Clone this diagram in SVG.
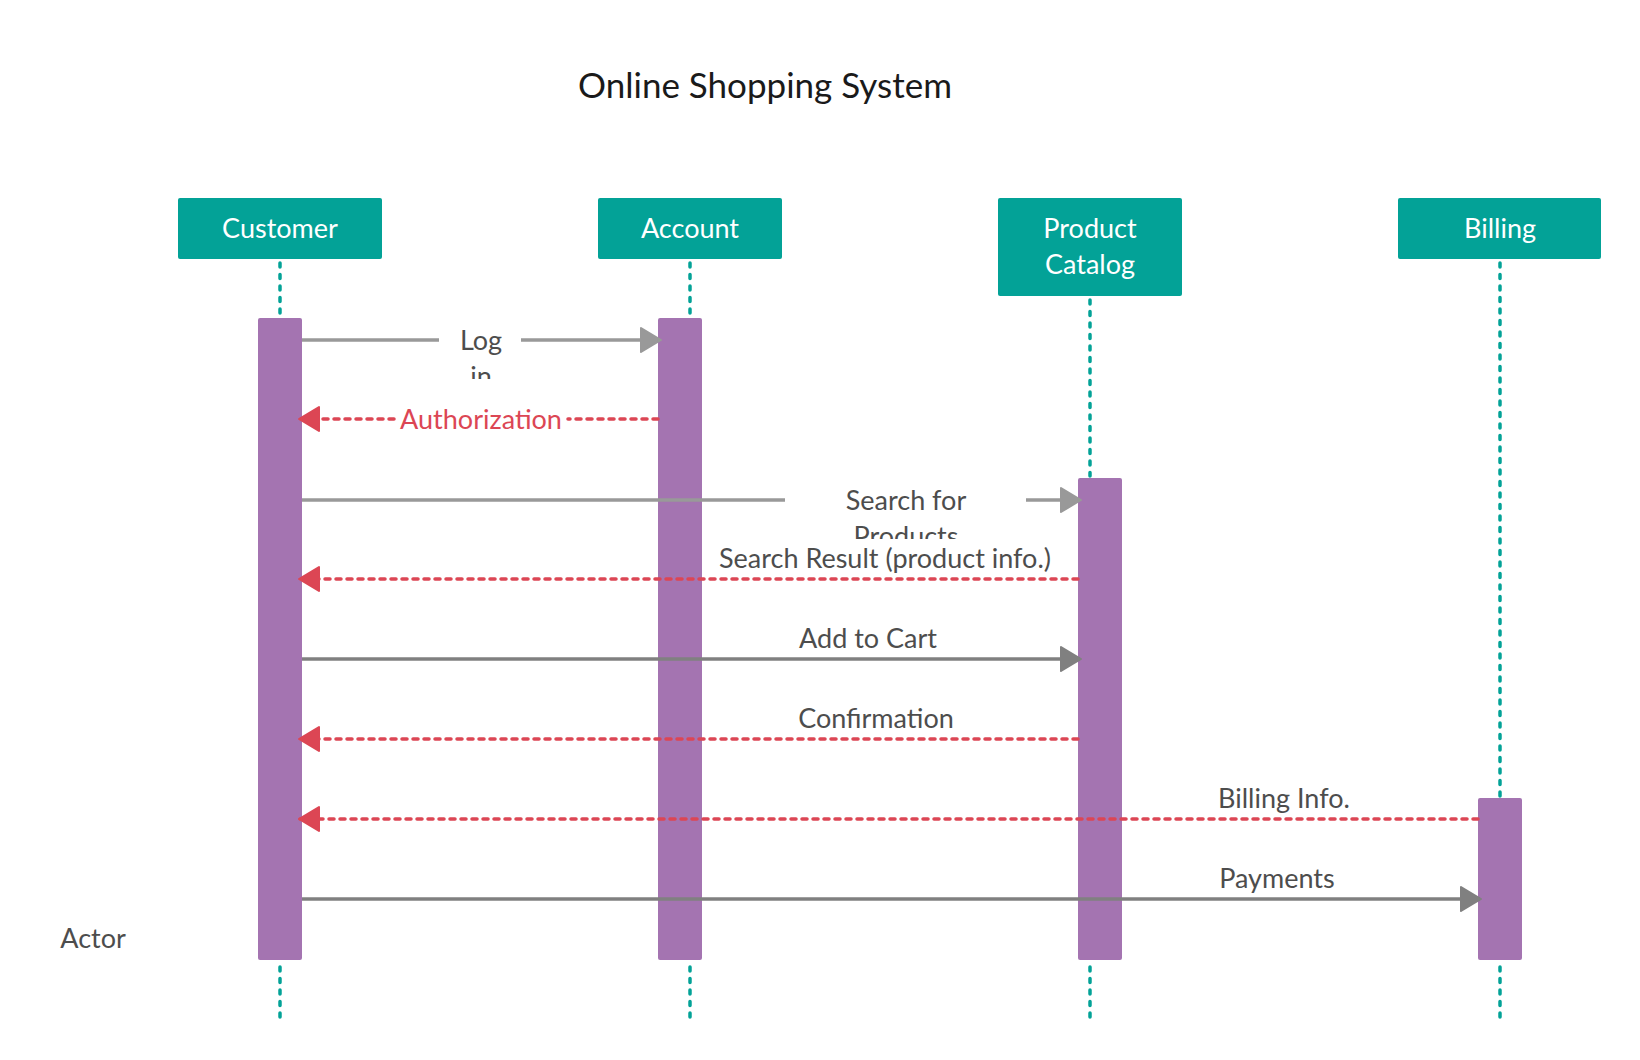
<svg xmlns="http://www.w3.org/2000/svg" width="1640" height="1060" viewBox="0 0 1640 1060">
<style>
.node{fill:#03A297;}
.ntext{font-family:Lato,"Noto Sans",sans-serif;font-size:27px;fill:#ffffff;text-anchor:middle;}
.life{stroke:#03A297;stroke-width:3.5;stroke-dasharray:4 7.5;stroke-linecap:round;fill:none;}
.bar{fill:#A474B1;}
.call{stroke:#999999;stroke-width:3.5;fill:none;}
.call2{stroke:#808080;stroke-width:3.5;fill:none;}
.ret{stroke:#DC4654;stroke-width:3.5;stroke-dasharray:5 6;stroke-linecap:round;fill:none;}
.lbl{font-family:Lato,"Noto Sans",sans-serif;font-size:27px;fill:#4D4D4D;text-anchor:middle;}
.rlbl{font-family:Lato,"Noto Sans",sans-serif;font-size:27px;fill:#DC4654;text-anchor:middle;}
.title{font-family:Lato,"Noto Sans",sans-serif;font-size:35px;fill:#1a1a1a;text-anchor:middle;}
</style>
<defs>
<marker id="ag" markerUnits="userSpaceOnUse" markerWidth="24" markerHeight="28" refX="20" refY="13" orient="auto" viewBox="0 0 24 26">
<path d="M1,1 L21,13 L1,25 Z" fill="#999999" stroke="#999999" stroke-width="2" stroke-linejoin="round"/>
</marker>
<marker id="ag2" markerUnits="userSpaceOnUse" markerWidth="24" markerHeight="28" refX="20" refY="13" orient="auto" viewBox="0 0 24 26">
<path d="M1,1 L21,13 L1,25 Z" fill="#808080" stroke="#808080" stroke-width="2" stroke-linejoin="round"/>
</marker>
<marker id="ar" markerUnits="userSpaceOnUse" markerWidth="24" markerHeight="28" refX="20" refY="13" orient="auto" viewBox="0 0 24 26">
<path d="M1,1 L21,13 L1,25 Z" fill="#DC4654" stroke="#DC4654" stroke-width="2" stroke-linejoin="round"/>
</marker>
<clipPath id="clipLog"><rect x="439" y="318" width="82" height="61"/></clipPath>
<clipPath id="clipSearch"><rect x="785" y="478" width="241" height="61"/></clipPath>
</defs>
<rect width="1640" height="1060" fill="#ffffff"/>
<text class="title" x="765" y="98">Online Shopping System</text>

<g id="lifelines">
<line class="life" x1="280" y1="263" x2="280" y2="316"/>
<line class="life" x1="280" y1="967" x2="280" y2="1020"/>
<line class="life" x1="690" y1="263" x2="690" y2="316"/>
<line class="life" x1="690" y1="967" x2="690" y2="1020"/>
<line class="life" x1="1090" y1="300" x2="1090" y2="476"/>
<line class="life" x1="1090" y1="967" x2="1090" y2="1020"/>
<line class="life" x1="1500" y1="263" x2="1500" y2="796"/>
<line class="life" x1="1500" y1="967" x2="1500" y2="1020"/>
</g>

<g id="customer">
<rect class="node" x="178" y="198" width="204" height="61" rx="2"/>
<text class="ntext" x="280" y="238">Customer</text>
<rect class="bar" x="258" y="318" width="44" height="642" rx="2"/>
</g>
<g id="account">
<rect class="node" x="598" y="198" width="184" height="61" rx="2"/>
<text class="ntext" x="690" y="238">Account</text>
<rect class="bar" x="658" y="318" width="44" height="642" rx="2"/>
</g>
<g id="product-catalog">
<rect class="node" x="998" y="198" width="184" height="98" rx="2"/>
<text class="ntext" x="1090" y="238">Product</text>
<text class="ntext" x="1090" y="274">Catalog</text>
<rect class="bar" x="1078" y="478" width="44" height="482" rx="2"/>
</g>
<g id="billing">
<rect class="node" x="1398" y="198" width="203" height="61" rx="2"/>
<text class="ntext" x="1500" y="238">Billing</text>
<rect class="bar" x="1478" y="798" width="44" height="162" rx="2"/>
</g>
<g id="actor">
<text class="lbl" x="93" y="948">Actor</text>
</g>

<g id="connectors">
<line class="call" x1="302" y1="340" x2="439" y2="340"/>
<line class="call" x1="521" y1="340" x2="660" y2="340" marker-end="url(#ag)"/>
<g clip-path="url(#clipLog)">
<text class="lbl" x="481" y="350">Log</text>
<text class="lbl" x="481" y="386">in</text>
</g>

<line class="ret" x1="658" y1="419" x2="568" y2="419"/>
<line class="ret" x1="394" y1="419" x2="300" y2="419" marker-end="url(#ar)"/>
<text class="rlbl" x="481" y="429">Authorization</text>

<line class="call" x1="302" y1="500" x2="785" y2="500"/>
<line class="call" x1="1026" y1="500" x2="1080" y2="500" marker-end="url(#ag)"/>
<g clip-path="url(#clipSearch)">
<text class="lbl" x="906" y="510">Search for</text>
<text class="lbl" x="906" y="546">Products</text>
</g>

<line class="ret" x1="1078" y1="579" x2="300" y2="579" marker-end="url(#ar)"/>
<text class="lbl" x="885" y="568">Search Result (product info.)</text>

<line class="call2" x1="302" y1="659" x2="1080" y2="659" marker-end="url(#ag2)"/>
<text class="lbl" x="868" y="648">Add to Cart</text>

<line class="ret" x1="1078" y1="739" x2="300" y2="739" marker-end="url(#ar)"/>
<text class="lbl" x="876" y="728">Confirmation</text>

<line class="ret" x1="1478" y1="819" x2="300" y2="819" marker-end="url(#ar)"/>
<text class="lbl" x="1284" y="808">Billing Info.</text>

<line class="call2" x1="302" y1="899" x2="1480" y2="899" marker-end="url(#ag2)"/>
<text class="lbl" x="1277" y="888">Payments</text>
</g>
</svg>
